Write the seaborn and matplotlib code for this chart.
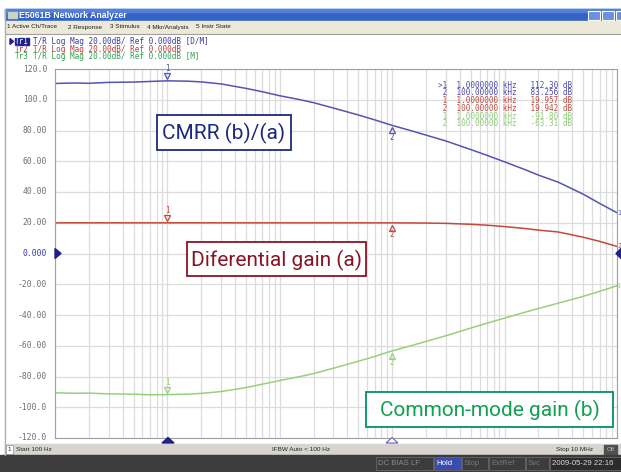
import matplotlib
matplotlib.use("Agg")
import matplotlib.pyplot as plt
import matplotlib.transforms as mtransforms
from matplotlib import font_manager
from matplotlib.patches import Rectangle, Polygon
import seaborn as sns
import pandas as pd

# trace data (frequency in Hz, magnitude in dB)
freq_hz = [100, 150, 200, 300, 500, 700, 1e3, 1.5e3, 2e3, 3e3, 5e3, 7e3,
           1e4, 1.5e4, 2e4, 3e4, 5e4, 7e4, 1e5, 1.5e5, 2e5, 3e5, 5e5, 7e5,
           1e6, 1.5e6, 2e6, 3e6, 5e6, 7e6, 1e7]
cmrr_db = [110.6, 110.9, 110.7, 111.3, 111.5, 111.9, 112.3, 112.1, 111.6, 110.3,
           107.4, 105.2, 102.6, 100.1, 98.1, 94.6, 90.1, 86.9, 83.3, 79.7,
           77.0, 73.2, 67.6, 63.8, 59.6, 54.7, 51.0, 46.4, 38.6, 32.6, 26.5]
diff_db = [19.96, 19.96, 19.96, 19.96, 19.96, 19.96, 19.96, 19.96, 19.96, 19.96,
           19.96, 19.96, 19.96, 19.95, 19.95, 19.95, 19.95, 19.94, 19.94, 19.88,
           19.8, 19.6, 19.0, 18.4, 17.5, 16.3, 15.2, 14.0, 10.6, 7.9, 4.6]
common_db = [-90.6, -90.9, -90.8, -91.3, -91.5, -91.9, -91.8, -91.5, -91.0, -89.8,
             -87.2, -85.0, -82.6, -80.1, -78.1, -74.6, -70.1, -66.9, -63.3, -59.8,
             -57.2, -53.5, -48.5, -45.3, -42.0, -38.3, -35.8, -32.3, -27.9, -24.6, -21.0]

trace_names = ["CMRR", "Diff", "Common"]
trace_colors = ["#5454b4", "#c4483c", "#98d07c"]

y_ticks = [120, 100, 80, 60, 40, 20, 0, -20, -40, -60, -80, -100, -120]
y_tick_labels = ["120.0", "100.0", "80.00", "60.00", "40.00", "20.00", "0.000",
                 "-20.00", "-40.00", "-60.00", "-80.00", "-100.0", "-120.0"]

marker_freqs = [1e3, 1e5]
marker_rows = [">1  1.0000000 kHz   112.30 dB",
               " 2  100.00000 kHz   83.256 dB",
               " 1  1.0000000 kHz   19.957 dB",
               " 2  100.00000 kHz   19.942 dB",
               " 1  1.0000000 kHz   -91.80 dB",
               " 2  100.00000 kHz   -63.31 dB"]
marker_row_colors = ["#4a4ab0", "#4a4ab0", "#c04a40", "#c04a40", "#90cc78", "#90cc78"]

header_tags = ["Tr1", "Tr2", "Tr3"]
header_rows = ["T/R Log Mag 20.00dB/ Ref 0.000dB [D/M]",
               "T/R Log Mag 20.00dB/ Ref 0.000dB",
               "T/R Log Mag 20.00dB/ Ref 0.000dB [M]"]
header_colors = ["#3a3aa0", "#c03a3a", "#30a050"]

menu_items = [(7, "1 Active Ch/Trace"), (68, "2 Response"), (110, "3 Stimulus"),
              (147, "4 Mkr/Analysis"), (196, "5 Instr State")]

df = pd.DataFrame({
    "freq": freq_hz * 3,
    "db": cmrr_db + diff_db + common_db,
    "trace": [n for n in trace_names for _ in freq_hz],
})

sns.set_style("white")
installed = {f.name for f in font_manager.fontManager.ttflist}
label_font = "Liberation Sans Narrow" if "Liberation Sans Narrow" in installed else "Roboto"
mono = "DejaVu Sans Mono"
ui = "Liberation Sans"

W, H = 621, 472
fig = plt.figure(figsize=(W / 100, H / 100), dpi=100)

# background layer in pixel coordinates (window chrome)
bg = fig.add_axes([0, 0, 1, 1], zorder=0)
bg.set_xlim(0, W)
bg.set_ylim(H, 0)
bg.axis("off")
bg.add_patch(Rectangle((0, 0), W, H, color="white"))
bg.add_patch(Rectangle((5, 9), W - 5, 12, color="#3563c4"))
bg.add_patch(Rectangle((5, 9), W - 5, 3, color="#5580d8"))
bg.add_patch(Rectangle((8, 12), 9, 6, color="#c8d4c0"))
bg.text(19, 15.5, "E5061B Network Analyzer", color="white", fontsize=6.3,
        fontweight="bold", family=ui, va="center")
for bx in [588, 602, 616]:
    bg.add_patch(Rectangle((bx, 11), 12, 9, facecolor="#6a90e0", edgecolor="white", lw=0.8))
bg.add_patch(Rectangle((5, 21), W - 5, 12, color="#ece9d8"))
bg.plot([5, W], [33.5, 33.5], color="#a0a0a0", lw=0.8)
for mx, txt in menu_items:
    bg.text(mx, 27, txt, fontsize=4.6, family=ui, va="center", color="#202020")
bg.plot([4.5, 4.5], [9, 455], color="#b0b0b0", lw=1)

# trace header
bg.add_patch(Polygon([[10, 38.5], [10, 44.5], [13.5, 41.5]], color="#20208a"))
bg.add_patch(Rectangle((14.5, 38), 14, 7, color="#20208a"))
for i, (tag, txt, col) in enumerate(zip(header_tags, header_rows, header_colors)):
    bg.text(15, 41.5 + 7.6 * i, tag, color="white" if i == 0 else col, fontsize=5.5,
            family=mono, va="center")
    bg.text(33.4, 41.5 + 7.6 * i, txt, color=col, fontsize=5.5, family=mono, va="center")

# y tick labels
for yv, lab in zip(y_ticks, y_tick_labels):
    py = 253.5 - yv * 369 / 240
    bg.text(47, py, lab, fontsize=5.8, family=mono, ha="right", va="center",
            color="#3a3aa0" if yv == 0 else "#707070")

# status bars
bg.add_patch(Rectangle((5, 444), W - 5, 11, color="#d8d5d0"))
bg.add_patch(Rectangle((6, 445), 7, 9, facecolor="white", edgecolor="#909090", lw=0.5))
bg.text(7.5, 449.5, "1", fontsize=4.6, family=ui, va="center")
bg.text(16, 449.5, "Start 100 Hz", fontsize=4.6, family=ui, va="center")
bg.text(272, 449.5, "IFBW Auto < 100 Hz", fontsize=4.6, family=ui, va="center")
bg.text(556, 449.5, "Stop 10 MHz", fontsize=4.6, family=ui, va="center")
bg.add_patch(Rectangle((604, 445), 13, 9, color="#505050"))
bg.text(610.5, 449.5, "Off", fontsize=4.4, family=ui, va="center", ha="center", color="#c0c0c0")
bg.add_patch(Rectangle((0, 455), W, H - 455, color="#3c3c3c"))
status_boxes = [(376, 433, "DC BIAS LF", "#3c3c3c", "#8a8a8a"),
                (434, 461, "Hold", "#3a4cb0", "#ffffff"),
                (462, 488, "Stop", "#3c3c3c", "#7a7a7a"),
                (489, 525, "ExtRef", "#3c3c3c", "#7a7a7a"),
                (526, 549, "Svc", "#3c3c3c", "#7a7a7a"),
                (550, 630, "2009-05-29 22:16", "#2c2c2c", "#d8d8d8")]
for x0, x1, txt, fc, tc in status_boxes:
    bg.add_patch(Rectangle((x0, 457), x1 - x0, 13, facecolor=fc, edgecolor="#666666", lw=0.6))
    bg.text(x0 + 2, 463.5, txt, fontsize=5.6, family=ui, va="center", color=tc)

# measurement plot
ax = fig.add_axes([55 / W, 1 - 438 / H, 562 / W, 369 / H], zorder=1)
ax.set_facecolor("white")
ax.set_xscale("log")
ax.set_xlim(100, 1e7)
ax.set_ylim(-120, 120)
ax.set_yticks(y_ticks)
ax.set_xticks([m * 10 ** d for d in range(2, 7) for m in range(1, 10)] + [1e7])
ax.xaxis.set_minor_locator(matplotlib.ticker.NullLocator())
ax.grid(True, color="#dcdcdc", lw=0.9)
ax.tick_params(left=False, bottom=False, labelleft=False, labelbottom=False)
for sp in ax.spines.values():
    sp.set_color("#a0a0a0")
    sp.set_linewidth(0.8)

sns.lineplot(data=df, x="freq", y="db", hue="trace", hue_order=trace_names,
             palette=trace_colors, linewidth=1.1, legend=False, ax=ax)

# markers on the traces
up = mtransforms.offset_copy(ax.transData, fig, x=0, y=5, units="dots")
up_num = mtransforms.offset_copy(ax.transData, fig, x=0, y=12, units="dots")
down = mtransforms.offset_copy(ax.transData, fig, x=0, y=-5, units="dots")
down_num = mtransforms.offset_copy(ax.transData, fig, x=0, y=-12, units="dots")
for vals, col in zip([cmrr_db, diff_db, common_db], trace_colors):
    for k, f in enumerate(marker_freqs):
        yv = vals[freq_hz.index(f)]
        if k == 0:
            ax.plot(f, yv, marker="v", ms=5, mfc="none", mec=col, mew=0.9, transform=up)
            ax.text(f, yv, "1", color=col, fontsize=5.5, family=mono, ha="center",
                    va="center", transform=up_num)
        else:
            ax.plot(f, yv, marker="^", ms=5, mfc="none", mec=col, mew=0.9, transform=down)
            ax.text(f, yv, "2", color=col, fontsize=5.5, family=mono, ha="center",
                    va="center", transform=down_num)

# marker readout table
for i, (row, col) in enumerate(zip(marker_rows, marker_row_colors)):
    ax.text(438, 85 + 7.8 * i, row, color=col, fontsize=5.5, family=mono, va="center",
            transform=bg.transData)

# overlay: reference marks, trace end numbers and labelled boxes
ov = fig.add_axes([0, 0, 1, 1], zorder=2)
ov.set_xlim(0, W)
ov.set_ylim(H, 0)
ov.axis("off")
ov.add_patch(Polygon([[55, 248.5], [55, 258.5], [61, 253.5]], color="#20208a"))
ov.add_patch(Polygon([[621, 248.5], [621, 258.5], [616, 253.5]], color="#20208a"))
ov.add_patch(Polygon([[162, 443], [174, 443], [168, 437.5]], color="#20208a"))
ov.add_patch(Polygon([[386, 443], [398, 443], [392, 437.5]], facecolor="white",
                     edgecolor="#6060c0", lw=0.8))

for num, vals, col in zip(["1", "2", "3"], [cmrr_db, diff_db, common_db], trace_colors):
    ax.text(1.0, vals[-1], num, color=col, fontsize=4.8, family=mono, va="center",
            transform=ax.get_yaxis_transform(), clip_on=False)

boxes = [(157, 115, 291, 150, "CMRR (b)/(a)", "#1c2a7a", "#1c2a7a"),
         (187, 242, 366, 276, "Diferential gain (a)", "#8a1424", "#8a1424"),
         (366, 392, 613, 427, "Common-mode gain (b)", "#00906c", "#10a050")]
for x0, y0, x1, y1, txt, ec, tc in boxes:
    ov.add_patch(Rectangle((x0, y0), x1 - x0, y1 - y0, facecolor="white", edgecolor=ec, lw=1.3))
    ov.text((x0 + x1) / 2, (y0 + y1) / 2 + 1, txt, color=tc, fontsize=15,
            family=label_font, ha="center", va="center")

fig.savefig("out.png", dpi=100)
